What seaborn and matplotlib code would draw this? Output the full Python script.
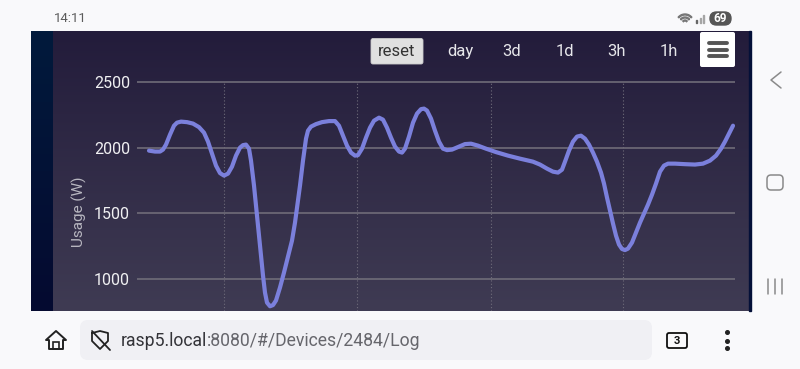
import numpy as np
import pandas as pd
import seaborn as sns
import matplotlib.pyplot as plt
from matplotlib.patches import FancyBboxPatch, Rectangle, Wedge, Polygon
from matplotlib.colors import LinearSegmentedColormap

# Time in minutes relative to the first dotted grid line, usage in watts
minutes = [-75, -69, -64, -61, -58, -54, -50, -47, -43, -37, -31, -25, -20, -16, -12, -8, -4, 0,
           4, 8, 12, 16, 19, 22, 25, 27, 30, 32, 34, 37, 39, 41, 43, 46, 49, 52, 56, 60, 64, 68,
           71, 74, 76, 79, 82, 84, 87, 92, 98, 105, 111, 115, 119, 123, 127, 131, 134, 138, 142,
           146, 150, 155, 159, 163, 167, 171, 175, 178, 181, 185, 189, 193, 197, 200, 203, 207,
           211, 215, 219, 223, 228, 234, 241, 247, 254, 262, 272, 284, 296, 309, 316, 323, 329,
           334, 338, 341, 345, 349, 353, 357, 361, 365, 369, 373, 377, 380, 383, 386, 389, 392,
           395, 398, 401, 404, 408, 412, 416, 420, 424, 428, 432, 436, 440, 444, 451, 461, 471,
           479, 486, 492, 497, 501, 505, 509]
usage = [1977, 1970, 1970, 1985, 2023, 2099, 2167, 2190, 2198, 2194, 2183, 2156, 2114, 2046, 1954,
         1863, 1806, 1787, 1802, 1855, 1939, 2000, 2019, 2023, 1992, 1901, 1711, 1559, 1406, 1178,
         1026, 896, 820, 792, 801, 836, 935, 1049, 1170, 1292, 1429, 1597, 1711, 1901, 2068, 2129,
         2160, 2179, 2194, 2202, 2202, 2167, 2091, 2015, 1962, 1939, 1943, 1992, 2076, 2152, 2205,
         2228, 2213, 2152, 2076, 2008, 1970, 1962, 1992, 2084, 2190, 2259, 2293, 2297, 2282, 2221,
         2129, 2046, 1992, 1981, 1985, 2004, 2027, 2030, 2015, 1992, 1966, 1939, 1916, 1893, 1871,
         1840, 1817, 1810, 1832, 1893, 1977, 2046, 2084, 2091, 2068, 2023, 1962, 1893, 1810, 1726,
         1620, 1521, 1422, 1330, 1262, 1228, 1220, 1231, 1277, 1353, 1429, 1498, 1566, 1642, 1726,
         1817, 1863, 1878, 1878, 1874, 1871, 1878, 1901, 1939, 1992, 2046, 2107, 2167]

y_ticks = [1000, 1500, 2000, 2500]
x_grid = [0, 133, 267, 399]
ranges = ["day", "3d", "1d", "3h", "1h"]
range_x = [460, 512, 565, 617, 669]

sns.set_theme(style="dark")
plt.rcParams["font.family"] = ["Roboto", "DejaVu Sans"]

fig = plt.figure(figsize=(8, 3.69), dpi=100, facecolor="#f9f9fb")

# page furniture, in pixels
bg = fig.add_axes([0, 0, 1, 1], zorder=0)
bg.axis("off")

cmap = LinearSegmentedColormap.from_list("panel", ["#231c3b", "#3f3b53"])
grad = np.linspace(0, 1, 100).reshape(-1, 1)
bg.imshow(grad, cmap=cmap, extent=(31, 750, 311, 31), aspect="auto", zorder=1)
band = LinearSegmentedColormap.from_list("band", ["#011a3c", "#050a30"])
bg.imshow(grad, cmap=band, extent=(31, 53, 311, 31), aspect="auto", zorder=2)
bg.add_patch(Rectangle((749, 31), 1.5, 280, color="#041038", zorder=2))
bg.set_xlim(0, 800)
bg.set_ylim(369, 0)

bg.text(70, 19, "14:11", fontsize=9.5, color="#5c5c5c", ha="center", va="center")

# status icons (y axis is flipped here, so the wedges open upwards at 220-320)
for i, h in enumerate([3, 5, 8]):
    bg.add_patch(Rectangle((696 + i * 3.5, 23 - h), 1.2, h, color="#a5a5a5" if i else "#666666"))
for r in [3, 6, 9]:
    bg.add_patch(Wedge((685, 23), r, 220, 320, width=1, color="#777777"))
bg.add_patch(FancyBboxPatch((710, 12), 21, 13, boxstyle="round,pad=0,rounding_size=6.5", color="#555555"))
bg.text(720, 18.5, "69", fontsize=8.5, fontweight="bold", color="white", ha="center", va="center")

# range buttons
bg.add_patch(FancyBboxPatch((371, 38.5), 52, 25.5, boxstyle="round,pad=0,rounding_size=2",
                            facecolor="#e0e0e0", edgecolor="#cccccc", lw=0.6, zorder=3))
bg.text(397, 51.5, "reset", fontsize=12, color="#333333", ha="center", va="center", zorder=4)
for label, x in zip(ranges, range_x):
    bg.text(x, 51.5, label, fontsize=12, color="#e6e6ea", ha="center", va="center", zorder=4)
bg.add_patch(FancyBboxPatch((700, 32), 35, 35, boxstyle="round,pad=0,rounding_size=2",
                            facecolor="white", edgecolor="none", zorder=3))
for y in [42.5, 49.5, 56]:
    bg.plot([709, 727], [y, y], color="#555555", lw=2.8, solid_capstyle="round", zorder=4)

# android nav
bg.plot([781, 771, 781], [72, 80, 88], color="#8a8a8a", lw=1.1)
bg.add_patch(FancyBboxPatch((767, 175), 16, 15, boxstyle="round,pad=0,rounding_size=4",
                            facecolor="none", edgecolor="#8a8a8a", lw=1.1))
for x in [768, 775, 782]:
    bg.plot([x, x], [279, 294], color="#8a8a8a", lw=1.1)

# address bar
bg.add_patch(FancyBboxPatch((80, 320), 572, 40, boxstyle="round,pad=0,rounding_size=8",
                            facecolor="#f0f0f4", edgecolor="none"))
bg.add_patch(Polygon([[46, 340], [56, 331], [66, 340], [63, 340], [63, 349], [49, 349], [49, 340]],
                     closed=True, fill=False, edgecolor="#222222", lw=1.4, joinstyle="round"))
bg.add_patch(Rectangle((53, 342), 6, 7, fill=False, edgecolor="#222222", lw=1.2))
bg.plot([92, 100, 108, 108, 100, 92, 92], [333, 331, 333, 341, 349, 341, 333], color="#222222", lw=1.3)
bg.plot([92, 110], [331, 350], color="#222222", lw=1.3)
url_a = bg.text(121, 340.5, "rasp5.local", fontsize=12.7, color="#333338", ha="left", va="center")
fig.canvas.draw()
url_end = url_a.get_window_extent().x1
bg.text(url_end, 340.5, ":8080/#/Devices/2484/Log", fontsize=12.7, color="#66666c", ha="left", va="center")
bg.add_patch(FancyBboxPatch((667, 333), 20, 15, boxstyle="round,pad=0,rounding_size=2",
                            facecolor="none", edgecolor="#111111", lw=1.3))
bg.text(677, 340.5, "3", fontsize=8, fontweight="bold", color="#111111", ha="center", va="center")
for y in [332, 340.5, 348]:
    bg.plot([726.5], [y], "o", ms=2.6, color="#222222")

bg.text(79, 212, "Usage (W)", fontsize=11, color="#b8b7c0", rotation=90, ha="center", va="center", zorder=4)

# chart, over the panel, mapped so that 2500 W sits at y=82 px and 1000 W at y=279 px
ax = fig.add_axes([137 / 800, 1 - 311 / 369, (735 - 137) / 800, (311 - 31) / 369], zorder=1)
ax.patch.set_alpha(0)
df = pd.DataFrame({"minutes": minutes, "usage": usage})
sns.lineplot(data=df, x="minutes", y="usage", ax=ax, color="#7b80dc", lw=3.0,
             solid_joinstyle="round", errorbar=None, zorder=3)
ax.set_xlim(-87, 511)
ax.set_ylim(756, 2888)
ax.set_yticks(y_ticks)
ax.set_xticks([])
ax.set_xlabel("")
ax.set_ylabel("")
ax.tick_params(axis="y", length=0, pad=5, labelsize=11.5, labelcolor="#f0f0f2")
ax.yaxis.grid(True, color="#6f6c78", lw=1.2)
ax.vlines(x_grid, 756, 2500, color="#6f6c7a", lw=0.8, linestyles=(0, (1, 2)), zorder=1)
for side in ax.spines.values():
    side.set_visible(False)

fig.savefig("out.png", dpi=100, facecolor=fig.get_facecolor())
